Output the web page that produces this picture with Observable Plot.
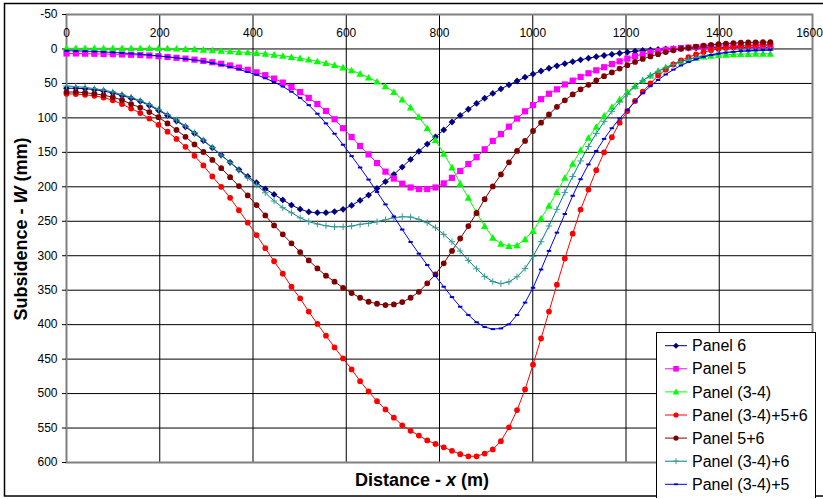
<!DOCTYPE html>
<html>
<head>
<meta charset="utf-8">
<script src="https://cdn.jsdelivr.net/npm/d3@7"></script>
<script src="https://cdn.jsdelivr.net/npm/@observablehq/plot@0.6"></script>
<style>
  html, body { margin: 0; padding: 0; background: #fff; }
  #wrap { position: relative; width: 823px; height: 499px; overflow: hidden; background: #fff; }
  #legend { position: absolute; left: 656px; top: 332px; }
</style>
</head>
<body>
<div id="wrap"><div id="chart"></div><div id="legend"></div></div>
<script>
// ---------- data ----------
const xTicks = [0, 200, 400, 600, 800, 1000, 1200, 1400, 1600];
const yTicks = [-50, 0, 50, 100, 150, 200, 250, 300, 350, 400, 450, 500, 550, 600];

const distance = [
  0, 20, 39.9, 59.7, 79.5, 99.3, 119, 138.6, 158.2, 177.7,
  197.2, 216.6, 235.9, 255.2, 274.5, 293.6, 312.8, 331.8, 350.9, 369.8,
  388.7, 407.6, 426.4, 445.2, 463.9, 482.5, 501.1, 519.6, 538.1, 556.5,
  574.9, 593.2, 611.5, 629.7, 647.9, 666, 684.1, 702.1, 720.1, 738,
  755.8, 773.7, 791.4, 809.1, 826.8, 844.4, 861.9, 879.5, 896.9, 914.3,
  931.7, 949, 966.3, 983.5, 1000.6, 1017.8, 1034.8, 1051.8, 1068.8, 1085.7,
  1102.6, 1119.5, 1136.2, 1153, 1169.7, 1186.3, 1202.9, 1219.4, 1235.9, 1252.4,
  1268.8, 1285.2, 1301.5, 1317.8, 1334, 1350.2, 1366.3, 1382.4, 1398.4, 1414.4,
  1430.4, 1446.3, 1462.2, 1478, 1493.8, 1509.5
];

const panel6 = [
  57, 57, 57.6, 59, 61, 64, 67.5, 71.5, 76, 82,
  89, 96.5, 104.5, 113, 122.5, 133, 143.5, 154, 164.5, 175,
  185, 194, 203, 211, 219, 226.5, 232.5, 236.5, 237.6, 237.6,
  236, 232.7, 227, 219.7, 212, 202.3, 192.6, 182, 171.3, 160.2,
  148.5, 138, 127.7, 117.5, 106, 96.5, 87.5, 79, 71.5, 64.5,
  58, 52, 46.5, 41, 36.5, 32, 28, 24.5, 21.3, 18.4,
  15.7, 13.3, 11.2, 9.5, 7.8, 6.2, 4.6, 3.3, 2.2, 1.3,
  0.6, 0, -0.5, -0.9, -1.2, -1.5, -1.7, -1.9, -2, -2.1,
  -2.2, -2.3, -2.3, -2.4, -2.4, -2.4
];

const panel5 = [
  6.5, 6.5, 6.8, 7, 7.3, 7.6, 8, 8.4, 8.8, 9.5,
  10.5, 11.6, 12.8, 14, 15.5, 17.3, 19.3, 21.5, 24, 27,
  30.3, 34, 38, 43, 48.8, 55.2, 62.6, 71, 80, 90,
  102, 115, 127.7, 140.8, 153, 165.5, 178, 188, 195.5, 201,
  203.2, 203.2, 201, 195, 187, 177, 167, 157, 145.6, 133.5,
  123.5, 112.7, 101, 90.5, 81.5, 72.8, 65, 58.6, 51.5, 46,
  40.6, 35.3, 31, 26.5, 22, 18, 14, 10.5, 7.5, 5,
  3, 1.3, 0, -1.2, -2, -2.7, -3.3, -3.8, -4.2, -4.5,
  -4.7, -4.9, -5, -5.1, -5.2, -5.2
];

const panel34 = [
  -1, -1, -1, -1, -1, -1, -1, -1, -1, -1,
  -1, -0.8, -0.5, 0, 0.5, 1.2, 2, 2.8, 3.5, 4.3,
  5, 5.8, 7, 8.5, 10, 11.6, 13.5, 15.5, 18, 20.5,
  23.5, 27, 31, 36, 41.6, 47.4, 54, 62.4, 73.5, 85,
  98.7, 115, 132, 152, 172, 195.5, 216, 237.6, 257, 274,
  282.6, 286, 285, 276, 264, 246, 227.5, 207.6, 187, 166.5,
  147, 129, 113, 97, 84, 73, 62.4, 53.7, 45.5, 38.5,
  32, 26.5, 22, 18, 15, 12.8, 11, 9.8, 9, 8.3,
  7.8, 7.5, 7.2, 7, 7, 7
];

const panel3456 = [
  65, 65.5, 66.5, 68, 70.5, 74.5, 80, 86.5, 93, 101,
  110, 120, 130.5, 142, 155, 169, 185, 200, 216, 234,
  252, 270, 289, 308, 326, 345, 362, 381, 399, 416,
  433, 449, 465, 482, 497, 511, 523, 535, 546, 554,
  561, 568, 573, 578, 583, 588, 591, 591, 587, 581,
  569, 549, 524, 494, 458, 420, 381, 342, 304, 268,
  233, 204, 176, 150, 128, 107, 90, 75.5, 62, 50,
  38.5, 30, 22.5, 16.5, 12, 8, 4.5, 2, 0, -1.5,
  -3, -4, -5, -5.5, -6, -6.3
];

const panel56 = [
  62.5, 62.5, 63.5, 65, 67, 70, 74, 80, 85, 91.5,
  99, 108, 117.5, 127.5, 138.5, 149.5, 161, 173, 186, 199,
  212.5, 226.5, 241.5, 256, 269, 282, 294.7, 306.8, 318.4, 329,
  337.7, 346.5, 354.2, 361, 366.8, 369.7, 371.6, 370.6, 367.3, 361,
  352.3, 340, 327, 311, 293, 275, 257, 238, 218, 199.4,
  182, 164.5, 148, 133.5, 119, 107, 95, 84, 74.5, 66,
  58.6, 52, 45.5, 39.5, 34, 28.5, 23.5, 18.8, 14.5, 10.8,
  7.5, 4.5, 2, -0.3, -2, -3.5, -4.8, -6, -7, -7.8,
  -8.5, -9, -9.4, -9.7, -9.9, -10
];

const panel346 = [
  53.7, 54.7, 55.7, 57.6, 59.6, 62.4, 66.3, 70.2, 75, 80.8,
  87.6, 95.3, 103.1, 111.8, 121.5, 132.1, 143, 154, 165, 176,
  187, 197.4, 208.6, 220.6, 230.3, 237.6, 245, 250.5, 254, 256.5,
  258, 258, 256.9, 254.5, 253, 250.7, 247.8, 244.9, 243.4, 243.9,
  247.2, 252.1, 259.4, 269, 279.7, 293.2, 306.8, 319, 330, 337.5,
  340.5, 338, 330.5, 318.5, 301, 279.7, 256.9, 232.7, 208.1, 185,
  162.5, 141.5, 122.5, 105.5, 90.5, 77, 65, 54.5, 46, 38.5,
  32.5, 27.5, 22.5, 18.5, 15, 12.5, 10, 8, 6.5, 5.3,
  4.3, 3.5, 3, 2.6, 2.3, 2
];

const panel345 = [
  2.5, 2.8, 3.2, 3.7, 4.3, 5, 5.8, 6.7, 7.7, 8.8,
  10, 11.3, 12.8, 14.4, 16.2, 18.3, 20.6, 23.2, 26.2, 29.6,
  33.5, 37.5, 42.5, 48, 54.5, 62, 71, 81.5, 94, 108,
  123, 139, 155.5, 172, 189.5, 207.5, 225.5, 243, 262, 280,
  297, 313.5, 329.5, 345, 360, 374, 386, 396.5, 403.5, 406.5,
  405.5, 399.5, 386, 368, 346.5, 320, 293, 266.5, 239.5, 213,
  189, 167.5, 148, 130.5, 115, 101, 88.5, 76, 64, 54,
  45, 37, 30, 24, 19, 15, 11.5, 8.8, 6.8, 5.2,
  4, 3.2, 2.5, 2, 1.6, 1.3
];

const seriesNames = ["Panel 6", "Panel 5", "Panel (3-4)", "Panel (3-4)+5+6", "Panel 5+6", "Panel (3-4)+6", "Panel (3-4)+5"];
const seriesValues = [panel6, panel5, panel34, panel3456, panel56, panel346, panel345];

// ---------- symbols ----------
const rad = (size) => Math.sqrt(size / Math.PI);
const symDiamond = { draw(c, s) { const r = rad(s); c.moveTo(0, -r); c.lineTo(r, 0); c.lineTo(0, r); c.lineTo(-r, 0); c.closePath(); } };
const symSquare = { draw(c, s) { const r = rad(s); c.rect(-r, -r, 2 * r, 2 * r); } };
const symTriangle = { draw(c, s) { const r = rad(s); c.moveTo(0, -r); c.lineTo(r, r * 0.8); c.lineTo(-r, r * 0.8); c.closePath(); } };
const symCircle = { draw(c, s) { const r = rad(s); c.moveTo(r, 0); c.arc(0, 0, r, 0, 2 * Math.PI); c.closePath(); } };
const symPlus = { draw(c, s) { const r = rad(s); c.moveTo(-r, 0); c.lineTo(r, 0); c.moveTo(0, -r); c.lineTo(0, r); } };
const symDash = { draw(c, s) { const r = rad(s); c.rect(-r, -r * 0.45, 2 * r, r * 0.9); } };

const styles = [
  { line: "#000080", sym: symDiamond, r: 3.4, fill: "#000080", stroke: "none" },
  { line: "#ff00ff", sym: symSquare, r: 3.1, fill: "#ff00ff", stroke: "none" },
  { line: "#00ff00", sym: symTriangle, r: 3.7, fill: "#00ff00", stroke: "none" },
  { line: "#ff0000", sym: symCircle, r: 2.9, fill: "#ff0000", stroke: "none" },
  { line: "#800000", sym: symCircle, r: 2.9, fill: "#800000", stroke: "none" },
  { line: "#008080", sym: symPlus, r: 3.3, fill: "none", stroke: "#3a9a9a" },
  { line: "#0000ff", sym: symDash, r: 2.2, fill: "#0000cc", stroke: "none" }
];

const tables = seriesValues.map(vals => distance.map((x, i) => ({ x, y: vals[i] })));
const fmt = d => String(d);
const xTicksInner = xTicks.slice(0, -1);
const xTickLast = xTicks.slice(-1);

const marks = [
  Plot.gridX(xTicks, { stroke: "#000", strokeOpacity: 1, strokeWidth: 1 }),
  Plot.gridY(yTicks, { stroke: "#000", strokeOpacity: 1, strokeWidth: 1 }),
  Plot.frame({ stroke: "#808080", strokeWidth: 2 }),
  Plot.axisX(xTicksInner, { anchor: "top", tickSize: 0, tickPadding: 0, dy: 22, label: null, fontSize: 12, tickFormat: fmt, fill: "#000" }),
  Plot.axisX(xTickLast, { anchor: "top", tickSize: 0, tickPadding: 0, dy: 22, dx: -3, label: null, fontSize: 12, tickFormat: fmt, fill: "#000" }),
  Plot.axisY(yTicks, { anchor: "left", tickSize: 4, tickPadding: 5, label: null, fontSize: 12, tickFormat: fmt, fill: "#000", stroke: "#000" })
];
tables.forEach((t, k) => {
  const st = styles[k];
  marks.push(Plot.line(t, { x: "x", y: "y", stroke: st.line, strokeWidth: 1 }));
  marks.push(Plot.dot(t, { x: "x", y: "y", symbol: st.sym, r: st.r, fill: st.fill, stroke: st.stroke, strokeWidth: 1 }));
});

const chart = Plot.plot({
  width: 823,
  height: 499,
  marginLeft: 66,
  marginRight: 11,
  marginTop: 14,
  marginBottom: 37,
  style: { fontFamily: "Arial, 'Liberation Sans', sans-serif", fontSize: "12px", color: "#000", background: "#fff", overflow: "visible" },
  x: { domain: [0, 1600], axis: null },
  y: { domain: [-50, 600], reverse: true, axis: null },
  marks
});
document.getElementById("chart").appendChild(chart);

// ---------- titles & outer frame ----------
const svg = d3.select(chart);
const ff = "Arial, 'Liberation Sans', sans-serif";
const xt = svg.append("text").attr("x", 422).attr("y", 486).attr("text-anchor", "middle")
  .attr("font-family", ff).attr("font-size", 18).attr("font-weight", "bold").attr("fill", "#000");
xt.append("tspan").text("Distance - ");
xt.append("tspan").attr("font-style", "italic").text("x");
xt.append("tspan").text(" (m)");
const yt = svg.append("text").attr("transform", "translate(27,229) rotate(-90)").attr("text-anchor", "middle")
  .attr("font-family", ff).attr("font-size", 18).attr("font-weight", "bold").attr("fill", "#000");
yt.append("tspan").text("Subsidence - ");
yt.append("tspan").attr("font-style", "italic").text("W");
yt.append("tspan").text(" (mm)");
svg.append("rect").attr("x", 4.5).attr("y", 3.5).attr("width", 840).attr("height", 492.5)
  .attr("fill", "none").attr("stroke", "#000").attr("stroke-width", 1.5);

// ---------- legend ----------
const lg = d3.select("#legend").append("svg").attr("width", 160).attr("height", 166)
  .style("display", "block");
lg.append("rect").attr("x", 0.5).attr("y", 0.5).attr("width", 159).attr("height", 170)
  .attr("fill", "#fff").attr("stroke", "#000").attr("stroke-width", 1);
seriesNames.forEach((name, k) => {
  const st = styles[k];
  const cy = 13.7 + k * 23.1;
  lg.append("line").attr("x1", 9).attr("x2", 31).attr("y1", cy).attr("y2", cy)
    .attr("stroke", st.line).attr("stroke-width", 1);
  lg.append("path").attr("transform", `translate(20,${cy})`)
    .attr("d", d3.symbol(st.sym, Math.PI * st.r * st.r * 0.8)())
    .attr("fill", st.fill).attr("stroke", st.stroke);
  lg.append("text").attr("x", 36).attr("y", cy).attr("dy", "0.35em")
    .attr("font-family", ff).attr("font-size", 16).attr("fill", "#000").text(name);
});
</script>
</body>
</html>
